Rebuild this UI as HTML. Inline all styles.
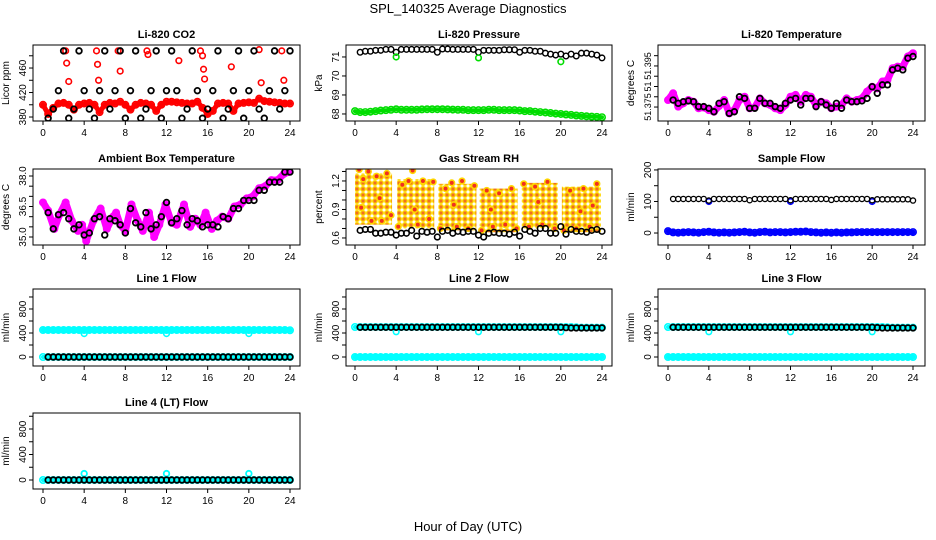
<!DOCTYPE html>
<html><head><meta charset="utf-8">
<style>
body{margin:0;background:#fff;}
svg{display:block;font-family:"Liberation Sans",Arial,sans-serif;}
</style></head>
<body>
<svg id="chart" width="936" height="540" viewBox="0 0 936 540">
<defs>
<pattern id="rhpat" width="6" height="6" patternUnits="userSpaceOnUse">
<rect width="6" height="6" fill="#fff"/>
<circle cx="3" cy="3" r="2.3" fill="#f07020" stroke="#ffd800" stroke-width="1.4"/>
</pattern>
</defs>
<rect width="936" height="540" fill="#fff"/>
<text x="468" y="13" text-anchor="middle" font-size="13">SPL_140325  Average Diagnostics</text>
<text x="468" y="531" text-anchor="middle" font-size="13">Hour of Day (UTC)</text>
</svg>
<script>
// ---------- data ----------
const xTicks=[0,4,8,12,16,20,24];
const tHalf=[0.5,1,1.5,2,2.5,3,3.5,4,4.5,5,5.5,6,6.5,7,7.5,8,8.5,9,9.5,10,10.5,11,11.5,12,12.5,13,13.5,14,14.5,15,15.5,16,16.5,17,17.5,18,18.5,19,19.5,20,20.5,21,21.5,22,22.5,23,23.5,24];
const tDense=[0,0.5,1,1.5,2,2.5,3,3.5,4,4.5,5,5.5,6,6.5,7,7.5,8,8.5,9,9.5,10,10.5,11,11.5,12,12.5,13,13.5,14,14.5,15,15.5,16,16.5,17,17.5,18,18.5,19,19.5,20,20.5,21,21.5,22,22.5,23,23.5,24];
const outlierT=[4,12,20];

const co2Red=[400,385,395,402,403,400,392,400,402,403,400,388,400,403,402,405,400,392,400,403,402,400,390,400,405,405,404,403,402,402,405,395,385,390,402,403,402,390,402,403,404,403,410,406,405,404,403,402,402];
const co2OutT=[2.2,2.3,2.5,5.2,5.3,5.4,7.3,7.5,10.1,10.2,13.2,15.3,15.5,15.6,15.7,18.3,21,21.2,23.2,23.4];
const co2OutV=[488,468,438,488,466,440,488,455,488,482,472,488,480,458,442,462,490,436,488,440];
const co2Black=[378,393,423,488,378,393,488,423,393,378,423,488,393,423,488,378,423,488,378,393,423,488,378,423,488,423,378,393,488,423,378,393,423,488,378,393,423,488,378,423,488,393,378,423,488,393,423,488];

const presBlack=[71.25,71.3,71.3,71.35,71.35,71.4,71.4,71.25,71.4,71.4,71.4,71.4,71.4,71.4,71.4,71.25,71.42,71.42,71.4,71.4,71.4,71.4,71.4,71.25,71.35,71.35,71.35,71.35,71.38,71.38,71.38,71.25,71.35,71.35,71.3,71.3,71.2,71.15,71.1,71.15,71.05,71.15,71.05,71.2,71.2,71.15,71.1,70.95];
const presGreen=[68.15,68.1,68.1,68.12,68.15,68.18,68.2,68.22,68.25,68.22,68.22,68.22,68.22,68.24,68.25,68.25,68.25,68.25,68.24,68.23,68.22,68.22,68.2,68.2,68.2,68.2,68.22,68.22,68.2,68.2,68.2,68.2,68.18,68.15,68.15,68.12,68.1,68.08,68.05,68.02,68.0,67.97,67.95,67.92,67.9,67.88,67.86,67.85,67.83];
const presOutV=[71.0,70.95,70.75];

const tempMag=[51.3784,51.3817,51.3752,51.3768,51.3784,51.3776,51.3744,51.3748,51.3735,51.3727,51.3755,51.3784,51.3719,51.3735,51.3784,51.38,51.3744,51.3748,51.3792,51.3768,51.376,51.3744,51.3735,51.376,51.38,51.3809,51.3776,51.3809,51.38,51.376,51.3776,51.3768,51.3744,51.3752,51.376,51.3792,51.3776,51.3784,51.3792,51.3825,51.3849,51.3841,51.3874,51.3882,51.3939,51.3947,51.3947,51.3996,51.4012];
const tempBlack=[51.3784,51.3768,51.3776,51.378,51.3776,51.3752,51.3752,51.3744,51.3727,51.3768,51.3776,51.3719,51.3727,51.38,51.3792,51.3744,51.3744,51.3792,51.3768,51.3768,51.3752,51.3744,51.3768,51.3784,51.3792,51.376,51.3792,51.3792,51.3752,51.3776,51.376,51.3744,51.3768,51.3744,51.3784,51.3776,51.3776,51.378,51.3792,51.3849,51.3817,51.3858,51.3858,51.3931,51.3939,51.3931,51.3988,51.3996];

const ambT=[0,0.5,1.1,1.6,2.2,2.8,3.4,3.8,4.2,4.9,5.6,6.2,6.8,7.1,7.5,8.0,8.6,9.2,9.7,10.3,10.8,11.3,11.9,12.5,13.0,13.7,14.3,14.8,15.3,15.8,16.4,16.9,17.4,18.0,18.6,19.2,19.8,20.4,21.0,21.6,22.2,22.8,23.4,23.9];
const ambV=[36.7,36.3,35.4,36.1,36.7,35.8,35.3,35.6,34.8,35.8,36.4,35.4,36.0,36.2,35.6,35.3,36.6,35.8,35.3,36.2,35.0,35.6,36.6,35.7,35.6,36.6,35.5,35.9,35.6,36.2,35.4,35.8,36.0,35.9,36.5,36.6,36.9,37.0,37.4,37.5,37.8,37.8,38.1,38.2];
const ambBlack=[36.2,35.4,36.1,36.2,35.9,35.4,35.6,35.1,35.2,35.9,36.0,35.1,35.9,35.8,35.6,35.2,36.4,35.7,35.5,36.2,35.4,35.6,36.0,36.7,35.7,35.9,36.3,35.6,35.9,35.8,35.5,35.6,35.6,35.5,36.0,35.9,36.4,36.4,36.8,36.8,36.8,37.3,37.3,37.7,37.7,37.7,38.2,38.2];

const rhBlockStart=[0,4.1,8.1,12.1,16.2,20.1];
const rhBlockEnd=[3.6,7.7,11.8,15.8,19.7,23.9];
const rhBlockLow=[0.74,0.70,0.68,0.66,0.70,0.66];
const rhBlockHigh=[1.28,1.22,1.17,1.12,1.18,1.14];
const rhScatT=[0.4,0.8,1.3,1.6,2.1,2.6,3.1,3.5,4.2,4.6,5.2,5.6,6.1,6.6,7.2,7.6,8.3,8.8,9.4,9.9,10.4,11.0,11.6,12.3,12.8,13.4,14.0,14.6,15.2,15.7,16.4,16.9,17.5,18.2,18.7,19.4,20.3,20.9,21.5,22.2,22.8,23.5,0.6,2.4,5.8,9.6,13.2,17.8,21.9,23.1];
const rhScatV=[1.32,1.22,1.3,0.78,1.25,0.78,1.28,0.84,0.72,1.16,1.2,1.31,0.74,1.2,0.8,1.19,0.7,1.12,1.18,0.72,1.2,0.7,1.15,0.68,1.1,0.72,1.07,0.74,1.12,0.7,1.17,0.72,1.14,0.74,1.19,0.7,0.68,1.1,0.7,1.12,0.72,1.17,0.92,1.02,0.9,0.95,0.9,0.98,0.88,0.94];
const rhBlack=[0.68,0.69,0.69,0.65,0.65,0.66,0.66,0.63,0.65,0.65,0.68,0.62,0.67,0.66,0.67,0.61,0.67,0.68,0.65,0.67,0.66,0.67,0.67,0.63,0.61,0.65,0.66,0.65,0.65,0.64,0.66,0.62,0.69,0.67,0.65,0.7,0.7,0.65,0.65,0.72,0.64,0.69,0.67,0.67,0.66,0.68,0.69,0.67];

const sfBlack=[108,108,108,108,108,108,108,103,108,108,108,108,108,108,108,104,108,108,108,108,108,108,108,104,108,108,108,108,108,108,108,105,108,108,108,108,108,108,108,104,107,107,107,107,107,107,107,103];
const sfBlue=[6,2,1,2,3,2,1,3,4,2,1,2,1,2,3,4,2,1,3,4,2,3,3,2,3,4,4,5,3,2,1,2,1,2,1,2,2,3,3,3,3,3,3,3,3,3,3,3,3];
const sfOutV=[100,100,100];

const l1High=[450,450,450,450,450,450,450,450,450,450,450,450,450,450,450,450,450,450,450,450,450,450,450,450,450,450,450,450,450,450,450,450,450,450,450,450,450,450,450,450,450,450,450,450,450,450,450,450,445];
const lZero=[0,0,0,0,0,0,0,0,0,0,0,0,0,0,0,0,0,0,0,0,0,0,0,0,0,0,0,0,0,0,0,0,0,0,0,0,0,0,0,0,0,0,0,0,0,0,0,0,0];
const lBlackZero=[0,0,0,0,0,0,0,0,0,0,0,0,0,0,0,0,0,0,0,0,0,0,0,0,0,0,0,0,0,0,0,0,0,0,0,0,0,0,0,0,0,0,0,0,0,0,0,0];
const l1OutV=[390,390,390];
const l2High=[500,500,500,500,500,500,500,500,500,500,500,500,500,500,500,500,500,500,500,500,500,500,500,500,500,500,500,500,500,500,500,500,500,500,500,500,500,500,500,500,500,500,500,495,490,490,490,490,490];
const l2Black=[495,495,495,495,495,495,495,495,495,495,495,495,495,495,495,495,495,495,495,495,495,495,495,495,495,495,495,495,495,495,495,495,495,495,495,495,495,495,495,495,490,485,485,485,485,485,485,485];
const l2OutV=[420,420,420];
const l4OutV=[100,100,100];

// ---------- rendering ----------
const NS='http://www.w3.org/2000/svg';
const svg=document.getElementById('chart');
const cols=[{l:33,r:300,x0:43,x24:290},{l:346,r:612,x0:355,x24:602},{l:658,r:925,x0:668,x24:913}];
const rows=[{t:45,b:121},{t:169,b:245},{t:289,b:366},{t:413,b:489}];
function mk(tag,attrs,parent){const e=document.createElementNS(NS,tag);for(const k in attrs)e.setAttribute(k,attrs[k]);(parent||svg).appendChild(e);return e;}

function panel(name,ci,ri,title,ylab,yTop,yBot,yTicks,yLabels,yfs){
  const c=cols[ci],r=rows[ri];
  const g=mk('g',{});
  
  
  const xs=t=>c.x0+t/24*(c.x24-c.x0);
  const ys=v=>r.t+(yTop-v)/(yTop-yBot)*(r.b-r.t);
  const tt=mk('text',{x:(c.l+c.r)/2,y:r.t-7,'text-anchor':'middle','font-size':11,'font-weight':'bold'},g);
  tt.textContent=title;
  
  
  const plot=mk('g',{},g);
  
  
  const cp='clip-'+name;
  const cpe=mk('clipPath',{id:cp},g);
  mk('rect',{x:c.l,y:r.t,width:c.r-c.l,height:r.b-r.t},cpe);
  plot.setAttribute('clip-path','url(#'+cp+')');
  const box=mk('rect',{x:c.l,y:r.t,width:c.r-c.l,height:r.b-r.t,fill:'none',stroke:'#000','stroke-width':1},g);
  
  
  const xa=mk('g',{},g);
  
  
  xTicks.forEach(t=>{
    mk('line',{x1:xs(t),x2:xs(t),y1:r.b,y2:r.b+4,stroke:'#000'},xa);
    const lb=mk('text',{x:xs(t),y:r.b+15,'text-anchor':'middle','font-size':10},xa);
    lb.textContent=String(t);
  });
  const ya=mk('g',{},g);
  
  
  yTicks.forEach((v,i)=>{
    mk('line',{x1:c.l-4,x2:c.l,y1:ys(v),y2:ys(v),stroke:'#000'},ya);
    if(yLabels[i]!==''){
      const lb=mk('text',{x:c.l-7,y:ys(v),'text-anchor':'middle','font-size':yfs||10,transform:'rotate(-90 '+(c.l-7)+' '+ys(v)+')'},ya);
      lb.textContent=yLabels[i];
    }
  });
  const yl=mk('text',{x:c.l-24,y:(r.t+r.b)/2,'text-anchor':'middle','font-size':10,transform:'rotate(-90 '+(c.l-24)+' '+((r.t+r.b)/2)+')'},g);
  yl.textContent=ylab;
  
  
  return {xs,ys,plot};
}
function band(p,name,ts,vs,color,w){
  const pts=ts.map((t,i)=>p.xs(t).toFixed(1)+','+p.ys(vs[i]).toFixed(1)).join(' ');
  const pl=mk('polyline',{points:pts,fill:'none',stroke:color,'stroke-width':w,'stroke-linejoin':'round','stroke-linecap':'round'},p.plot);
  
  
  dots(p,name+'-points',ts,vs,color,3.2,1.6);
}
function dots(p,name,ts,vs,color,rad,sw){
  const g=mk('g',{},p.plot);
  
  
  ts.forEach((t,i)=>{mk('circle',{cx:p.xs(t),cy:p.ys(vs[i]),r:rad,fill:'none',stroke:color,'stroke-width':sw},g);});
}
const BK='#000';
// CO2
let p=panel('co2',0,0,'Li-820 CO2','Licor ppm',497.6,373.5,[380,400,420,440,460,480],['380','','420','','460','']);
band(p,'co2-red-series',tDense,co2Red,'#f00',5);
dots(p,'co2-red-outliers',co2OutT,co2OutV,'#f00',2.8,1.6);
dots(p,'co2-black-series',tHalf,co2Black,BK,2.8,1.8);
// Pressure
p=panel('pressure',1,0,'Li-820 Pressure','kPa',71.63,67.63,[68,69,70,71],['68','69','70','71']);
band(p,'pressure-green-series',tDense,presGreen,'#0d0',4);
dots(p,'pressure-black-series',tHalf,presBlack,BK,2.8,1.4);
dots(p,'pressure-green-outliers',outlierT,presOutV,'#0d0',2.8,1.6);
// Temperature
p=panel('li820-temperature',2,0,'Li-820 Temperature','degrees C',51.4052,51.3682,[51.375,51.38,51.385,51.39,51.395,51.4],['51.375','','51','','51.395',''],9);
band(p,'temperature-magenta-series',tDense,tempMag,'#f0f',7);
dots(p,'temperature-black-series',tHalf,tempBlack,BK,2.8,1.8);
// Ambient
p=panel('ambient-temperature',0,1,'Ambient Box Temperature','degrees C',38.345,34.607,[35,35.5,36,36.5,37,37.5,38],['35.0','','','36.5','','','38.0']);
band(p,'ambient-magenta-series',ambT,ambV,'#f0f',7);
dots(p,'ambient-black-series',tHalf,ambBlack,BK,2.8,1.8);
// RH
p=panel('gas-rh',1,1,'Gas Stream RH','percent',1.326,0.526,[0.6,0.7,0.8,0.9,1.0,1.1,1.2,1.3],['0.6','','','0.9','','','1.2','']);
{const g=mk('g',{},p.plot);
 
 
 rhBlockStart.forEach((s,i)=>{mk('rect',{x:p.xs(s),y:p.ys(rhBlockHigh[i]),width:p.xs(rhBlockEnd[i])-p.xs(s),height:p.ys(rhBlockLow[i])-p.ys(rhBlockHigh[i]),fill:'url(#rhpat)'},g);});}
{const g=mk('g',{},p.plot);
 
 
 rhScatT.forEach((t,i)=>{mk('circle',{cx:p.xs(t),cy:p.ys(rhScatV[i]),r:2.8,fill:'#f03020',stroke:'#ffd800','stroke-width':1.6},g);});}
dots(p,'rh-black-series',tHalf,rhBlack,BK,2.8,1.6);
// Sample flow
p=panel('sample-flow',2,1,'Sample Flow','ml/min',203,-38,[0,50,100,150,200],['0','','100','','200']);
band(p,'sample-flow-blue-series',tDense,sfBlue,'#00f',5);
dots(p,'sample-flow-blue-outliers',outlierT,sfOutV,'#00f',2.8,1.6);
dots(p,'sample-flow-black-series',tHalf,sfBlack,BK,2.6,1.3);
// Line flows
const fTicks=[0,200,400,600,800,1000],fLab=['0','','400','','800',''];
p=panel('line1-flow',0,2,'Line 1 Flow','ml/min',1133,-150,fTicks,fLab);
band(p,'line1-cyan-high',tDense,l1High,'#0ff',5);
band(p,'line1-cyan-zero',tDense,lZero,'#0ff',4);
dots(p,'line1-cyan-outliers',outlierT,l1OutV,'#0ff',2.8,1.6);
dots(p,'line1-black-series',tHalf,lBlackZero,BK,2.8,1.8);
p=panel('line2-flow',1,2,'Line 2 Flow','ml/min',1133,-150,fTicks,fLab);
band(p,'line2-cyan-high',tDense,l2High,'#0ff',4);
band(p,'line2-cyan-zero',tDense,lZero,'#0ff',5);
dots(p,'line2-cyan-outliers',outlierT,l2OutV,'#0ff',2.8,1.6);
dots(p,'line2-black-series',tHalf,l2Black,BK,2.8,1.8);
p=panel('line3-flow',2,2,'Line 3 Flow','ml/min',1133,-150,fTicks,fLab);
band(p,'line3-cyan-high',tDense,l2High,'#0ff',4);
band(p,'line3-cyan-zero',tDense,lZero,'#0ff',5);
dots(p,'line3-cyan-outliers',outlierT,l2OutV,'#0ff',2.8,1.6);
dots(p,'line3-black-series',tHalf,l2Black,BK,2.8,1.8);
p=panel('line4-flow',0,3,'Line 4 (LT) Flow','ml/min',1051,-141,fTicks,fLab);
band(p,'line4-cyan-zero',tDense,lZero,'#0ff',4);
dots(p,'line4-cyan-outliers',outlierT,l4OutV,'#0ff',2.8,1.8);
dots(p,'line4-black-series',tHalf,lBlackZero,BK,2.8,1.8);
</script>
</body></html>
